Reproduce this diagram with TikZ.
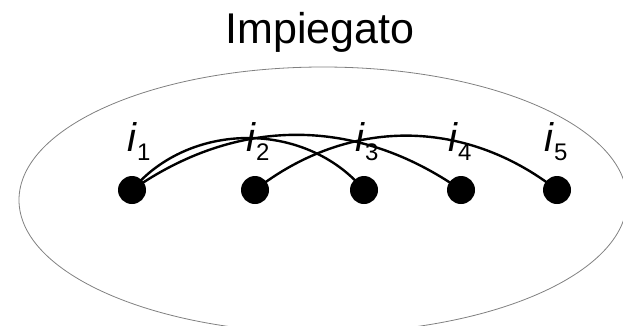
\documentclass[tikz,border=0pt]{standalone}
\usepackage{fontspec}
\setmainfont{Liberation Sans}
\usetikzlibrary{shapes.geometric}
\begin{document}
\begin{tikzpicture}[x=1pt,y=-1pt,
  dot/.style={circle,fill=black,inner sep=0pt,minimum size=28pt},
  lbl/.style={anchor=base,inner sep=0pt,font=\fontsize{40}{40}\selectfont},
  arcline/.style={line width=2.4pt,black},
  setshape/.style={ellipse,draw=black!50,line width=0.8pt,inner sep=0pt,minimum width=608pt,minimum height=266pt}
]
\useasboundingbox (0,0) rectangle (623,325);
\begin{scope}
\clip (0,0) rectangle (623,325);
\node[setshape] (set) at (323,200) {};
\end{scope}
\node[anchor=base,inner sep=0pt,font=\fontsize{43}{43}\selectfont] (title) at (320,43) {Impiegato};
\node[dot] (d1) at (132,190) {};
\node[dot] (d2) at (255,190) {};
\node[dot] (d3) at (364,190) {};
\node[dot] (d4) at (461,190) {};
\node[dot] (d5) at (557,190) {};
\node[lbl] (l1) at (139,151) {\textit{i}\raisebox{-9pt}{\fontsize{24}{24}\selectfont 1}};
\node[lbl] (l2) at (258,151) {\textit{i}\raisebox{-9pt}{\fontsize{24}{24}\selectfont 2}};
\node[lbl] (l3) at (367,151) {\textit{i}\raisebox{-9pt}{\fontsize{24}{24}\selectfont 3}};
\node[lbl] (l4) at (460,151) {\textit{i}\raisebox{-9pt}{\fontsize{24}{24}\selectfont 4}};
\node[lbl] (l5) at (556,151) {\textit{i}\raisebox{-9pt}{\fontsize{24}{24}\selectfont 5}};
\draw[arcline] (d1.center) to[bend left=50] (d3.center);
\draw[arcline] (d1.center) to[bend left=35] (d4.center);
\draw[arcline] (d2.center) to[bend left=38] (d5.center);
\end{tikzpicture}
\end{document}
